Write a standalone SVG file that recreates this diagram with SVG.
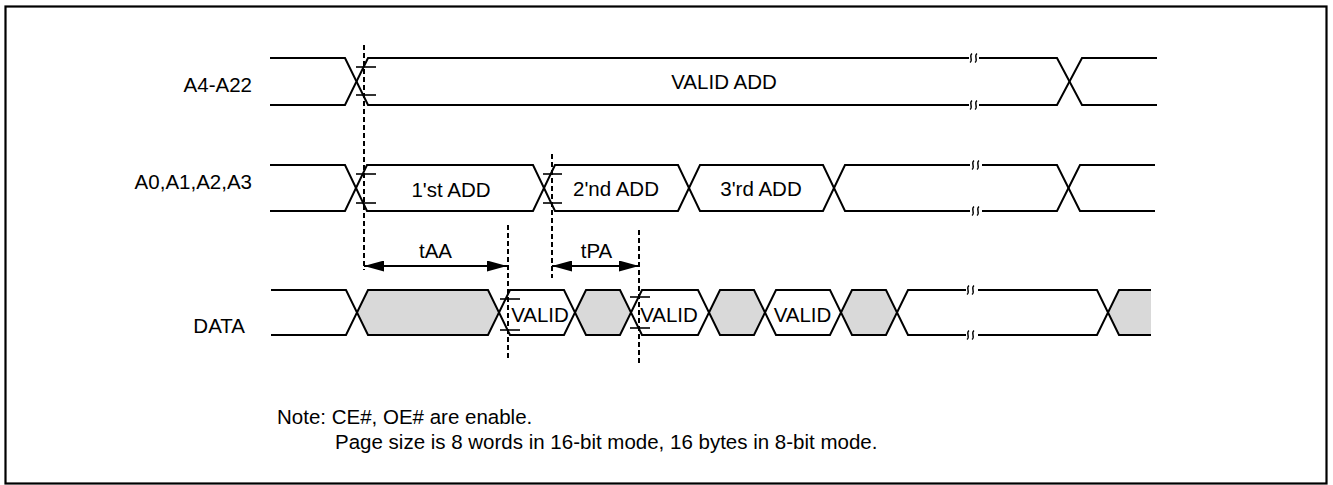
<svg xmlns="http://www.w3.org/2000/svg" width="1333" height="485" viewBox="0 0 1333 485">
<style>
.sig{fill:none;stroke:#000;stroke-width:2;stroke-linejoin:miter}
.gray{fill:#d9d9d9;stroke:#000;stroke-width:2}
.wht{fill:#fff;stroke:#000;stroke-width:2}
.tick{stroke:#000;stroke-width:1.6}
.dash{stroke:#000;stroke-width:2;stroke-dasharray:5 3;fill:none}
.brk{fill:none;stroke:#000;stroke-width:1.4}
.arr{stroke:#000;stroke-width:2;marker-start:url(#ah);marker-end:url(#ah)}
text{font-family:"Liberation Sans",Arial,sans-serif;font-size:20.5px;fill:#000}
.c{text-anchor:middle}
.r{text-anchor:end}
</style>
<defs>
<marker id="ah" viewBox="0 0 20 11" refX="20" refY="5.5" markerWidth="20" markerHeight="11" markerUnits="userSpaceOnUse" orient="auto-start-reverse">
<path d="M0,0 L20,5.5 L0,11 Z" fill="#000"/>
</marker>
<path id="bm" d="M1,-4.5 C-2.5,-2 2.5,2 -1,4.5" class="brk"/>
</defs>
<rect x="5.5" y="6.5" width="1321" height="477" fill="#fff" stroke="#000" stroke-width="2.2"/>

<g id="row-a4">
<text class="r" x="252" y="92">A4-A22</text>
<path class="sig" d="M270,58 H345 L356.5,81.5 L345,105 H270"/>
<path class="sig" d="M356.5,81.5 L368,58 H969 M979,58 H1057 L1069.5,81.5 L1057,105 H979 M969,105 H368 L356.5,81.5"/>
<path class="sig" d="M1157,58 H1082 L1069.5,81.5 L1082,105 H1157"/>
<use href="#bm" x="971" y="58"/><use href="#bm" x="976" y="58"/>
<use href="#bm" x="971" y="105"/><use href="#bm" x="976" y="105"/>
<line class="tick" x1="356" y1="67" x2="376" y2="67"/>
<line class="tick" x1="356" y1="95" x2="376" y2="95"/>
<text class="c" x="724" y="89">VALID ADD</text>
</g>

<g id="row-a0">
<text class="r" x="252" y="189">A0,A1,A2,A3</text>
<path class="sig" d="M270,165 H345 L367,211 H533 L555,165 H678 L700,211 H823 L845,165 H970 M982,165 H1057 L1080,211 H1155"/>
<path class="sig" d="M270,211 H345 L367,165 H533 L555,211 H678 L700,165 H823 L845,211 H970 M982,211 H1057 L1080,165 H1155"/>
<use href="#bm" x="973" y="165"/><use href="#bm" x="978" y="165"/>
<use href="#bm" x="973" y="211"/><use href="#bm" x="978" y="211"/>
<line class="tick" x1="356" y1="174" x2="376" y2="174"/>
<line class="tick" x1="356" y1="203" x2="376" y2="203"/>
<line class="tick" x1="543" y1="174" x2="562" y2="174"/>
<line class="tick" x1="543" y1="203" x2="562" y2="203"/>
<text class="c" x="451" y="197">1'st ADD</text>
<text class="c" x="616" y="196">2'nd ADD</text>
<text class="c" x="761" y="196">3'rd ADD</text>
</g>

<g id="row-data">
<text class="r" x="245" y="333">DATA</text>
<path class="sig" d="M271,290 H346 L357,312.5 L346,335 H271"/>
<polygon class="gray" points="357,312.5 368,290 488,290 499,312.5 488,335 368,335"/>
<polygon class="wht" points="499,312.5 510,290 564,290 575,312.5 564,335 510,335"/>
<polygon class="gray" points="575,312.5 586,290 620,290 631,312.5 620,335 586,335"/>
<polygon class="wht" points="631,312.5 642,290 698,290 709,312.5 698,335 642,335"/>
<polygon class="gray" points="709,312.5 720,290 754,290 765,312.5 754,335 720,335"/>
<polygon class="wht" points="765,312.5 776,290 830,290 841,312.5 830,335 776,335"/>
<polygon class="gray" points="841,312.5 852,290 886,290 897,312.5 886,335 852,335"/>
<path class="sig" d="M897,312.5 L908,290 H966 M978,290 H1097 L1108,312.5 L1097,335 H978 M966,335 H908 L897,312.5"/>
<use href="#bm" x="968" y="290"/><use href="#bm" x="973" y="290"/>
<use href="#bm" x="968" y="335"/><use href="#bm" x="973" y="335"/>
<polygon points="1108,312.5 1119,290 1151,290 1151,335 1119,335" fill="#d9d9d9"/>
<path class="sig" d="M1151,290 H1119 L1108,312.5 L1119,335 H1151"/>
<line class="tick" x1="500" y1="299" x2="520" y2="299"/>
<line class="tick" x1="500" y1="330" x2="520" y2="330"/>
<line class="tick" x1="630" y1="297" x2="650" y2="297"/>
<line class="tick" x1="630" y1="328" x2="650" y2="328"/>
<text class="c" x="540" y="322">VALID</text>
<text class="c" x="669" y="322">VALID</text>
<text class="c" x="802.5" y="322">VALID</text>
</g>

<g id="connectors">
<line class="dash" x1="364" y1="45" x2="364" y2="270"/>
<line class="dash" x1="552" y1="154" x2="552" y2="278"/>
<line class="dash" x1="508" y1="225" x2="508" y2="358"/>
<line class="dash" x1="639" y1="230" x2="639" y2="363"/>
<line class="arr" x1="364" y1="266" x2="507" y2="266"/>
<line class="arr" x1="552" y1="266" x2="639" y2="266"/>
</g>

<g id="timing-labels">
<text class="c" x="435.5" y="258">tAA</text>
<text class="c" x="596.5" y="258">tPA</text>
</g>

<g id="note">
<text x="277" y="424">Note: CE#, OE# are enable.</text>
<text x="335" y="449">Page size is 8 words in 16-bit mode, 16 bytes in 8-bit mode.</text>
</g>
</svg>
